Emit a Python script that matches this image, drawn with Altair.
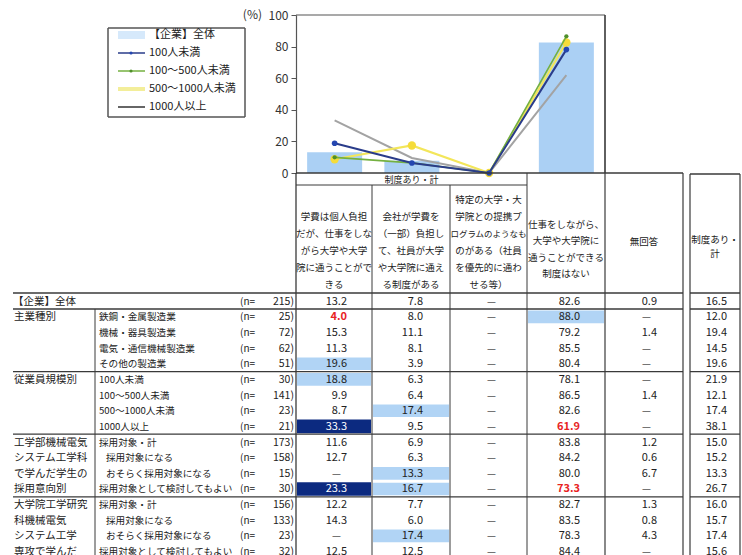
import altair as alt
import pandas as pd

FONT = "Noto Sans CJK JP"
W, H = 742, 555

# ---------------- data ----------------
chart_categories = ["学費個人負担", "会社が学費負担", "提携プログラム", "制度はない"]

row_groups = ["", "主業種別", "", "", "", "従業員規模別", "", "", "",
              "工学部機械電気", "システム工学科", "で学んだ学生の", "採用意向別",
              "大学院工学研究", "科機械電気", "システム工学", "専攻で学んだ"]
row_labels = ["【企業】全体", "鉄鋼・金属製造業", "機械・器具製造業", "電気・通信機械製造業",
              "その他の製造業", "100人未満", "100～500人未満", "500～1000人未満", "1000人以上",
              "採用対象・計", "採用対象になる", "おそらく採用対象になる", "採用対象として検討してもよい",
              "採用対象・計", "採用対象になる", "おそらく採用対象になる", "採用対象として検討してもよい"]
row_n = [215, 25, 72, 62, 51, 30, 141, 23, 21, 173, 158, 15, 30, 156, 133, 23, 32]

col1 = [13.2, 4.0, 15.3, 11.3, 19.6, 18.8, 9.9, 8.7, 33.3, 11.6, 12.7, None, 23.3, 12.2, 14.3, None, 12.5]
col2 = [7.8, 8.0, 11.1, 8.1, 3.9, 6.3, 6.4, 17.4, 9.5, 6.9, 6.3, 13.3, 16.7, 7.7, 6.0, 17.4, 12.5]
col3 = [None] * 17
col4 = [82.6, 88.0, 79.2, 85.5, 80.4, 78.1, 86.5, 82.6, 61.9, 83.8, 84.2, 80.0, 73.3, 82.7, 83.5, 78.3, 84.4]
col5 = [0.9, None, 1.4, None, None, None, 1.4, None, None, 1.2, 0.6, 6.7, None, 1.3, 0.8, 4.3, None]
col6 = [16.5, 12.0, 19.4, 14.5, 19.6, 21.9, 12.1, 17.4, 38.1, 15.0, 15.2, 13.3, 26.7, 16.0, 15.7, 17.4, 15.6]
columns = [col1, col2, col3, col4, col5, col6]

header_top = "制度あり・計"
header_cols = [
    ["学費は個人負担", "だが、仕事をしな", "がら大学や大学", "院に通うことがで", "きる"],
    ["会社が学費を", "（一部）負担し", "て、社員が大学", "や大学院に通え", "る制度がある"],
    ["特定の大学・大", "学院との提携プ", "ログラムのようなも", "のがある（社員", "を優先的に通わ", "せる等）"],
    ["仕事をしながら、", "大学や大学院に", "通うことができる", "制度はない"],
    ["無回答"],
    ["制度あり・", "計"],
]

legend_names = ["【企業】全体", "100人未満", "100～500人未満", "500～1000人未満", "1000人以上"]
series_rows = [5, 6, 7, 8]          # table rows drawn as lines
light_cells = [(1, 3), (4, 0), (5, 0), (7, 1), (11, 1), (12, 1), (15, 1)]
dark_cells = [(8, 0), (12, 0)]
red_cells = [(1, 0), (8, 3), (12, 3)]
y_ticks = [0, 20, 40, 60, 80, 100]

# ---------------- layout ----------------
PX = alt.Scale(domain=[0, W], range=[0, W])
PY = alt.Scale(domain=[0, H], range=[0, H])
X_L, X_R, Y_T, Y_0 = 296, 605, 15, 173
edges = [296, 372, 450, 527, 605, 683]
c6 = (690, 740)
num_right = [347, 423, 502, 580, 657, 727]
ROW_TOP, ROW0_B, ROW_H = 293, 309, 15.65
indent = [0, 0, 0, 0, 0, 0, 0, 0, 0, 0, 1, 1, 0, 0, 1, 1, 0]


def row_top(i):
    return ROW_TOP if i == 0 else ROW0_B + ROW_H * (i - 1)


def row_bot(i):
    return ROW0_B if i == 0 else ROW0_B + ROW_H * i


def row_mid(i):
    return (row_top(i) + row_bot(i)) / 2 + 0.5


def cell_x(c):
    return (edges[c], edges[c + 1]) if c < 5 else c6


def texts(rows, align="left", size=10.5, weight="normal", baseline="middle"):
    df = pd.DataFrame(rows, columns=["x", "y", "t", "c"])
    return alt.Chart(df).mark_text(align=align, baseline=baseline, font=FONT,
                                   fontSize=size, fontWeight=weight).encode(
        x=alt.X("x:Q", scale=PX, axis=None), y=alt.Y("y:Q", scale=PY, axis=None),
        text="t:N", color=alt.Color("c:N", scale=None))


def rules(segs):
    df = pd.DataFrame(segs, columns=["x", "x2", "y", "y2", "w", "c"])
    return alt.Chart(df).mark_rule().encode(
        x=alt.X("x:Q", scale=PX, axis=None), x2="x2:Q",
        y=alt.Y("y:Q", scale=PY, axis=None), y2="y2:Q",
        size=alt.Size("w:Q", scale=None), color=alt.Color("c:N", scale=None))


def rects(rs, opacity=1.0):
    df = pd.DataFrame(rs, columns=["x", "x2", "y", "y2", "c"])
    return alt.Chart(df).mark_rect(opacity=opacity).encode(
        x=alt.X("x:Q", scale=PX, axis=None), x2="x2:Q",
        y=alt.Y("y:Q", scale=PY, axis=None), y2="y2:Q",
        color=alt.Color("c:N", scale=None))


layers = []

# cell fills
layers.append(rects([(cell_x(c)[0] + 1, cell_x(c)[1] - 1, row_top(r) + 1.5, row_bot(r) - 1.5, "#a8cff4")
                     for r, c in light_cells], opacity=0.9))
layers.append(rects([(cell_x(c)[0] + 1, cell_x(c)[1] - 1, row_top(r) + 1, row_bot(r) - 1, "#0c2a80")
                     for r, c in dark_cells]))

# ---------------- chart ----------------
cat_band = alt.Scale(type="band", domain=chart_categories, range=[X_L, X_R],
                     paddingInner=0.288, paddingOuter=0.144)
cat_point = alt.Scale(type="point", domain=chart_categories, range=[X_L, X_R], padding=0.5)
pct = alt.Scale(domain=[0, 100], range=[Y_0, Y_T])


def chart_vals(r):
    return [columns[k][r] if columns[k][r] is not None else 0.0 for k in range(4)]


bar_df = pd.DataFrame({"cat": chart_categories, "v": chart_vals(0)})
layers.append(alt.Chart(bar_df).mark_bar(color="#a6cdf3", opacity=0.95).encode(
    x=alt.X("cat:N", scale=cat_band, sort=chart_categories, axis=None),
    y=alt.Y("v:Q", scale=pct, axis=alt.Axis(orient="left", offset=-X_L, values=y_ticks,
                                            tickSize=5, labelPadding=3, labelFontSize=12,
                                            labelFont=FONT, labelColor="#333", domainColor="#555",
                                            tickColor="#555", grid=False, title=None,
                                            domainWidth=1.2))))

styles = {  # series row -> (line colour, width, point colour, point size)
    8: ("#a3a3a3", 2.0, "#8a8a8a", 0),
    7: ("#f3e65a", 2.2, "#f5dc3a", 70),
    6: ("#74b040", 1.6, "#4f8f2a", 18),
    5: ("#2a3c8a", 2.0, "#2446b0", 32),
}
for r in [8, 7, 6, 5]:
    lc, lw, pc, ps = styles[r]
    df = pd.DataFrame({"cat": chart_categories, "v": chart_vals(r), "i": range(4)})
    enc = dict(x=alt.X("cat:N", scale=cat_point, sort=chart_categories, axis=None),
               y=alt.Y("v:Q", scale=pct, axis=None), order=alt.Order("i:Q"))
    layers.append(alt.Chart(df).mark_line(color=lc, strokeWidth=lw).encode(**enc))
    if ps:
        layers.append(alt.Chart(df).mark_point(filled=True, color=pc, size=ps, opacity=1).encode(**enc))

# chart frame
GRAY = "#555"
layers.append(rules([(X_L, X_R, Y_T, Y_T, 1.2, GRAY), (X_R, X_R, Y_T, Y_0, 1.2, GRAY)]))
layers.append(texts([(262, Y_T, "(%)", "#333")], align="right", size=12))

# legend
LX0, LX1, LY0, LY1 = 108, 245, 28, 117
layers.append(rects([(LX0, LX1, LY0, LY1, "#ffffff")]))
leg_y = [35, 53, 71, 89, 107]
layers.append(rects([(118, 145, leg_y[0] - 4, leg_y[0] + 4, "#d6e9fb")]))
leg_cols = [None, ("#2a3c8a", "#2446b0"), ("#74b040", "#4f8f2a"), ("#f3ee9a", "#f1ea80"), ("#333333", None)]
segs = []
for k in range(1, 5):
    lc = leg_cols[k][0]
    segs.append((118, 145, leg_y[k], leg_y[k], 1.5 if k != 3 else 4, lc))
layers.append(rules(segs))
layers.append(alt.Chart(pd.DataFrame({"x": [131, 131], "y": [leg_y[1], leg_y[2]],
                                      "c": ["#2446b0", "#4f8f2a"]})).mark_point(
    filled=True, size=10, opacity=1).encode(
    x=alt.X("x:Q", scale=PX, axis=None), y=alt.Y("y:Q", scale=PY, axis=None),
    color=alt.Color("c:N", scale=None)))
layers.append(rules([(LX0, LX1, LY0, LY0, 1.5, GRAY), (LX0, LX1, LY1, LY1, 1.5, GRAY),
                     (LX0, LX0, LY0, LY1, 1.5, GRAY), (LX1, LX1, LY0, LY1, 1.5, GRAY)]))
layers.append(texts([(149, leg_y[k], legend_names[k], "#222") for k in range(5)], size=11))

# ---------------- header text ----------------
layers.append(texts([((edges[0] + edges[3]) / 2, 180, header_top, "#222")], align="center", size=9))
hdr = []
starts = [217, 217, 200, 225, 242, 240]
steps = [17, 17, 17, 16.3, 17, 14]
for c, lines in enumerate(header_cols):
    cx = (cell_x(c)[0] + cell_x(c)[1]) / 2
    for j, s in enumerate(lines):
        hdr.append((cx, starts[c] + steps[c] * j, s, "#222"))
hdr_small = [h for h in hdr if len(h[2]) >= 9]
hdr_norm = [h for h in hdr if len(h[2]) < 9]
layers.append(texts(hdr_norm, align="center", size=9.5))
layers.append(texts(hdr_small, align="center", size=8.5))

# ---------------- row labels ----------------
grp, lab, nlab = [], [], []
for i in range(17):
    if row_groups[i]:
        grp.append((14, row_mid(i), row_groups[i], "#222"))
    if i == 0:
        grp.append((13, row_mid(i), row_labels[i], "#222"))
    else:
        lab.append((106 if indent[i] else 99, row_mid(i), row_labels[i], "#222"))
    nlab.append((240, row_mid(i), "(n=", "#222"))
layers.append(texts(grp, size=10.5))
layers.append(texts(lab, size=9.6))
layers.append(texts(nlab, size=10))
layers.append(texts([(294, row_mid(i), f"{row_n[i]})", "#222") for i in range(17)], align="right", size=10.5))

# ---------------- table lines ----------------
LINE = "#3a3a3a"
segs = []
TB = H + 5
segs += [(X_L, 683, Y_0, Y_0, 1.3, LINE), (c6[0], c6[1], Y_0 + 1, Y_0 + 1, 1.3, LINE)]
segs += [(X_L, edges[3], 185, 185, 1.0, LINE)]
for yy, w in [(ROW_TOP, 1.4), (ROW0_B, 1.4), (row_bot(4), 1.3), (row_bot(8), 1.3), (row_bot(12), 1.3)]:
    segs += [(13, 683, yy, yy, w, LINE), (c6[0], c6[1], yy, yy, w, LINE)]
segs += [(X_L, X_L, Y_0, TB, 1.3, LINE), (edges[1], edges[1], 185, TB, 1.0, LINE),
         (edges[2], edges[2], 185, TB, 1.0, LINE), (edges[3], edges[3], Y_0, TB, 1.0, LINE),
         (edges[4], edges[4], Y_T, TB, 1.2, LINE), (edges[5], edges[5], Y_0, TB, 1.2, LINE),
         (c6[0], c6[0], Y_0 + 1, TB, 1.2, LINE), (c6[1], c6[1], Y_0 + 1, TB, 1.2, LINE),
         (95, 95, ROW0_B, TB, 1.0, LINE)]
layers.append(rules(segs))

# ---------------- numbers ----------------
dark_set, red_set = set(dark_cells), set(red_cells)
normal, bold_red, dashes = [], [], []
for c, col in enumerate(columns):
    for r, v in enumerate(col):
        y = row_mid(r)
        if v is None:
            dashes.append((num_right[c] - 6, y, "—", "#555"))
        elif (r, c) in red_set:
            bold_red.append((num_right[c], y, f"{v:.1f}", "#e8231f"))
        elif (r, c) in dark_set:
            normal.append((num_right[c], y, f"{v:.1f}", "#ffffff"))
        else:
            normal.append((num_right[c], y, f"{v:.1f}", "#222"))
layers.append(texts(normal, align="right", size=11))
layers.append(texts(bold_red, align="right", size=11, weight="bold"))
layers.append(texts(dashes, align="right", size=10))

chart = alt.layer(*layers).resolve_scale(
    x="independent", y="independent", color="independent", size="independent"
).properties(
    width=W, height=H, autosize=alt.AutoSizeParams(type="none"), padding=0, background="white"
).configure_view(stroke=None)

chart.save("out.html", embed_options={"renderer": "svg", "actions": False})
